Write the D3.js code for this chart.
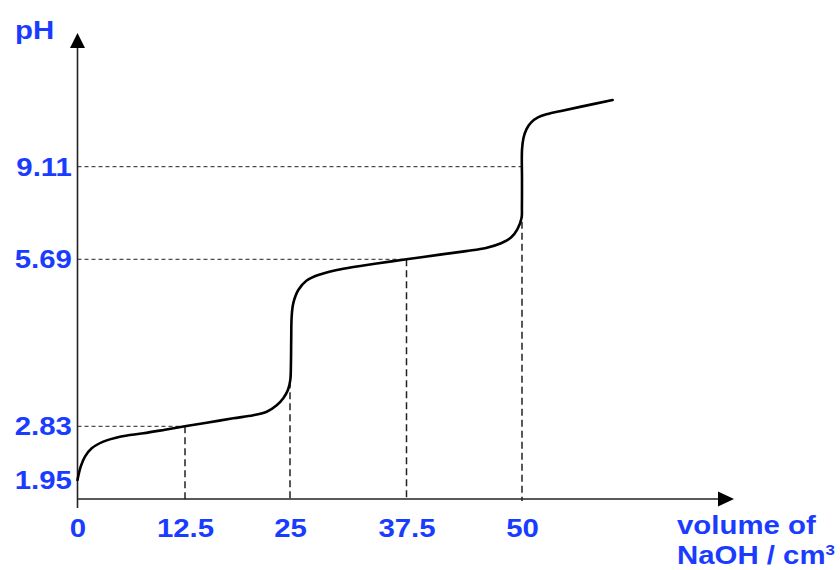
<!DOCTYPE html>
<html>
<head>
<meta charset="utf-8">
<script src="https://cdn.jsdelivr.net/npm/d3@7"></script>
<style>
  html, body { margin: 0; padding: 0; background: #fff; }
  svg { display: block; }
</style>
</head>
<body>
<svg id="chart" width="840" height="570"></svg>
<script>
// Titration curve of a diprotic acid against NaOH (schematic axes)
const volume = [0, 0.37, 0.87, 1.65, 3.0, 4.94, 7.65, 10.17, 12.5,
  15.08, 18.25, 20.63, 22.23, 23.42, 24.2, 24.75, 25.03, 25.1, 25.13, 25.18,
  25.35, 25.89, 26.79, 28.22, 30.72, 34.3, 37.5, 41.13, 43.94, 46.1,
  47.73, 48.81, 49.51, 49.95, 49.99, 50.0, 50.0, 50.16, 50.49, 50.97,
  51.73, 52.81, 54.11, 56.28, 59.81];
const pH = [1.95, 2.168, 2.332, 2.469, 2.578, 2.66, 2.715, 2.774, 2.83,
  2.89, 2.967, 3.02, 3.08, 3.19, 3.31, 3.45, 3.62, 3.9, 4.31, 4.71,
  4.936, 5.164, 5.327, 5.43, 5.527, 5.617, 5.69, 5.864, 5.993, 6.107,
  6.281, 6.495, 6.809, 7.215, 7.632, 8.618, 9.73, 10.17, 10.50, 10.74,
  10.93, 11.06, 11.16, 11.32, 11.57];

const xTicks = [0, 12.5, 25, 37.5, 50];
const yTicks = [1.95, 2.83, 5.69, 9.11];

// reference points on the curve: half-equivalence and equivalence volumes
const guideVolume = [12.5, 25, 37.5, 50];
const guidePH = [2.83, 3.6, 5.69, 9.11];

const xTitle = ["volume of", "NaOH / cm"];
const yTitle = "pH";

// ---- layout ----
const AXIS_X = 77.5, AXIS_Y = 499;
const Y_TOP = 33, X_RIGHT = 734;
const BLUE = "#1a3cff";
const FONT = "'Liberation Sans', Arial, Helvetica, sans-serif";
const STRETCH = 1.13;

const svg = d3.select("#chart");

// piecewise (schematic) scales
const x = d3.scaleLinear().domain(xTicks).range([AXIS_X, 185, 290, 406.5, 522]);
const y = d3.scaleLinear().domain(yTicks).range([480, 426.3, 259.3, 166.7]);

const guides = guideVolume.map((v, i) => ({ v, p: guidePH[i] }));

// horizontal guides from the pH axis to the curve
svg.append("g").selectAll("line")
  .data(guides.filter(d => yTicks.includes(d.p)))
  .join("line")
  .attr("x1", AXIS_X).attr("x2", d => x(d.v))
  .attr("y1", d => y(d.p)).attr("y2", d => y(d.p))
  .attr("stroke", "#222").attr("stroke-width", 1)
  .attr("stroke-dasharray", "4,3");

// vertical guides from the curve down to the volume axis
svg.append("g").selectAll("line")
  .data(guides)
  .join("line")
  .attr("x1", d => x(d.v)).attr("x2", d => x(d.v))
  .attr("y1", d => y(d.p)).attr("y2", AXIS_Y + 2)
  .attr("stroke", "#222").attr("stroke-width", 1.5)
  .attr("stroke-dasharray", "7,4");

// axes with arrowheads
const axisG = svg.append("g").attr("stroke", "#222").attr("stroke-width", 1.6);
axisG.append("line").attr("x1", AXIS_X).attr("x2", AXIS_X)
  .attr("y1", AXIS_Y + 9).attr("y2", Y_TOP + 14);
axisG.append("line").attr("x1", AXIS_X).attr("x2", X_RIGHT - 14)
  .attr("y1", AXIS_Y).attr("y2", AXIS_Y);
svg.append("path")
  .attr("d", `M${AXIS_X},${Y_TOP} L${AXIS_X - 7.5},${Y_TOP + 15} L${AXIS_X + 7.5},${Y_TOP + 15} Z`)
  .attr("fill", "#000");
svg.append("path")
  .attr("d", `M${X_RIGHT},${AXIS_Y} L${X_RIGHT - 16},${AXIS_Y - 7.5} L${X_RIGHT - 16},${AXIS_Y + 7.5} Z`)
  .attr("fill", "#000");

// curve
const line = d3.line()
  .x(d => x(d[0]))
  .y(d => y(d[1]))
  .curve(d3.curveCatmullRom.alpha(0.5));
svg.append("path")
  .datum(volume.map((v, i) => [v, pH[i]]))
  .attr("d", line)
  .attr("fill", "none")
  .attr("stroke", "#000")
  .attr("stroke-width", 2.6)
  .attr("stroke-linejoin", "round")
  .attr("stroke-linecap", "round");

function styleTicks(g) {
  g.select(".domain").remove();
  g.selectAll("text")
    .attr("fill", BLUE)
    .style("font-family", FONT)
    .style("font-size", "26px")
    .style("font-weight", "bold")
    .attr("transform", `scale(${STRETCH},1)`);
}

svg.append("g")
  .attr("transform", `translate(0,${AXIS_Y})`)
  .call(d3.axisBottom(x).tickValues(xTicks).tickSize(0).tickPadding(20).tickFormat(d => String(d)))
  .call(styleTicks);

svg.append("g")
  .attr("transform", `translate(${AXIS_X},0)`)
  .call(d3.axisLeft(y).tickValues(yTicks).tickSize(0).tickPadding(5).tickFormat(d => d.toFixed(2)))
  .call(styleTicks);

// axis titles
function title(px, py) {
  return svg.append("g").attr("transform", `translate(${px},${py}) scale(${STRETCH},1)`)
    .append("text")
    .attr("fill", BLUE)
    .style("font-family", FONT)
    .style("font-size", "26px")
    .style("font-weight", "bold");
}
title(15, 39).text(yTitle);
title(677, 534).text(xTitle[0]);
const t2 = title(677, 564).text(xTitle[1]);
t2.append("tspan").attr("dy", -9).style("font-size", "15px").text("3");
</script>
</body>
</html>
